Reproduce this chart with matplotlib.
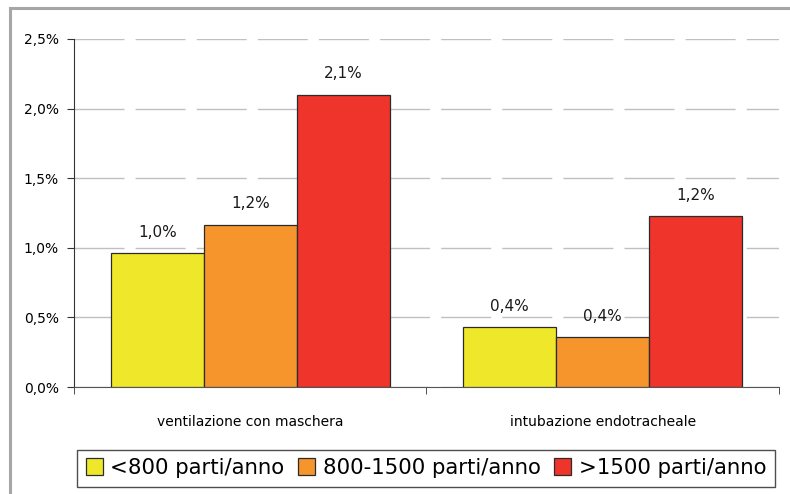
import numpy as np
import matplotlib.pyplot as plt
from matplotlib.patches import Rectangle

categorie = ['ventilazione con maschera', 'intubazione endotracheale']
serie = ['<800 parti/anno', '800-1500 parti/anno', '>1500 parti/anno']
valori = {
    '<800 parti/anno': [0.96, 0.43],
    '800-1500 parti/anno': [1.165, 0.36],
    '>1500 parti/anno': [2.10, 1.225],
}
etichette = {
    '<800 parti/anno': ['1,0%', '0,4%'],
    '800-1500 parti/anno': ['1,2%', '0,4%'],
    '>1500 parti/anno': ['2,1%', '1,2%'],
}
colori = ['#EFE82A', '#F6952C', '#EE342B']
yticks = [0.0, 0.5, 1.0, 1.5, 2.0, 2.5]

plt.rcParams['font.family'] = ['DejaVu Sans']

fig = plt.figure(figsize=(7.9, 4.94), dpi=100)
# cornice grigia del grafico (tagliata a destra e in basso)
fig.patches.append(Rectangle((10 / 790, -0.05), 1.0, (494 - 7) / 494 + 0.05 - 0.002,
                             transform=fig.transFigure, fill=False,
                             edgecolor='#A6A6A8', linewidth=2.2))

ax = fig.add_axes([74 / 790, 107 / 494, 705 / 790, 348 / 494])

x = np.arange(len(categorie))
w = 0.264
for i, s in enumerate(serie):
    pos = x + (i - 1) * w
    bars = ax.bar(pos, valori[s], width=w, color=colori[i], edgecolor='#2b2b2b',
                  linewidth=0.9, label=s, zorder=3)
    for b, lab in zip(bars, etichette[s]):
        ax.annotate(lab, (b.get_x() + b.get_width() / 2, b.get_height()),
                    xytext=(0, 15), textcoords='offset points',
                    ha='center', va='center', fontsize=11, color='#1a1a1a')

ax.set_xlim(-0.5, 1.5)
ax.set_ylim(0, 2.5)
ax.set_yticks(yticks)
ax.set_yticklabels([f'{v:.1f}%'.replace('.', ',') for v in yticks], fontsize=10)
ax.set_xticks(x)
ax.set_xticklabels(categorie, fontsize=10)
ax.tick_params(axis='x', which='major', length=0, pad=20)
ax.set_xticks([-0.5, 0.5, 1.5], minor=True)
ax.tick_params(axis='x', which='minor', length=5, color='#333333')
ax.tick_params(axis='y', length=5, color='#333333', pad=6)

ax.grid(axis='y', color='#C0C0C0', linewidth=1.0, dashes=(36, 8), zorder=0)
ax.set_axisbelow(True)
for sp in ['top', 'right']:
    ax.spines[sp].set_visible(False)
ax.spines['left'].set_color('#333333')
ax.spines['bottom'].set_color('#555555')

leg = fig.legend(loc='center', bbox_to_anchor=(426 / 790, 26 / 494), ncol=3,
                 fontsize=15.3, frameon=True, fancybox=False, edgecolor='#222222',
                 handlelength=0.8, handleheight=0.8, handletextpad=0.35,
                 columnspacing=0.65, borderpad=0.4, borderaxespad=0)
leg.get_frame().set_linewidth(1.0)

fig.savefig('out.png', dpi=100)
